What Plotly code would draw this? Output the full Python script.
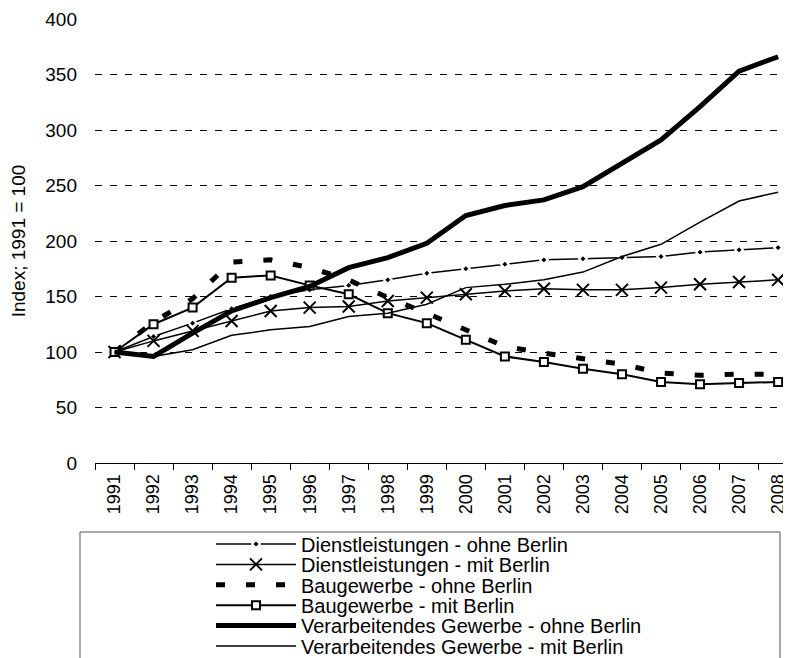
import plotly.graph_objects as go

# data (Index; 1991 = 100)
years = [str(y) for y in range(1991, 2009)]

dienst_ohne = [100, 114, 126, 139, 150, 156, 160, 165, 171, 175, 179, 183, 184, 185, 186, 190, 192, 194]
dienst_mit = [100, 110, 119, 128, 137, 140, 141, 146, 149, 152, 155, 157, 156, 156, 158, 161, 163, 165]
bau_ohne = [100, 127, 148, 181, 183, 176, 165, 149, 135, 120, 105, 99, 94, 89, 81, 79, 80, 80]
bau_mit = [100, 125, 140, 167, 169, 160, 152, 135, 126, 111, 96, 91, 85, 80, 73, 71, 72, 73]
verarb_ohne = [100, 96, 117, 137, 149, 159, 176, 185, 198, 223, 232, 237, 249, 270, 291, 321, 353, 366]
verarb_mit = [100, 96, 102, 115, 120, 123, 132, 135, 143, 158, 161, 165, 172, 186, 197, 217, 236, 244]

names = [
    "Dienstleistungen - ohne Berlin",
    "Dienstleistungen - mit Berlin",
    "Baugewerbe - ohne Berlin",
    "Baugewerbe - mit Berlin",
    "Verarbeitendes Gewerbe - ohne Berlin",
    "Verarbeitendes Gewerbe - mit Berlin",
]

FONT = "Liberation Sans, Arial, sans-serif"
OFF = 8                      # page body margin of the html page
W, H = 791 - OFF, 700        # figure runs past the window bottom (legend is cut there)
ML, MT = 87, 11
plot_w = W - ML
plot_h = 444
MB = H - MT - plot_h
AXIS_Y = OFF + MT + plot_h   # page pixel of the x axis


def px_x(p):
    return (p - OFF - ML) / plot_w


def px_y(p):
    return (AXIS_Y - p) / plot_h


legend_ids = ["legend", "legend2", "legend3", "legend4", "legend5", "legend6"]

fig = go.Figure()

fig.add_trace(go.Scatter(
    x=years, y=dienst_ohne, name=names[0], mode="lines+markers", legend=legend_ids[0],
    line=dict(color="black", width=1.5),
    marker=dict(symbol="diamond", size=6, color="black", line=dict(color="white", width=2)),
))
fig.add_trace(go.Scatter(
    x=years, y=dienst_mit, name=names[1], mode="lines+markers", legend=legend_ids[1],
    line=dict(color="black", width=1.5),
    marker=dict(symbol="x-thin", size=12, color="black", line=dict(color="black", width=2)),
))
fig.add_trace(go.Scatter(
    x=years, y=bau_ohne, name=names[2], mode="lines", legend=legend_ids[2],
    line=dict(color="black", width=5, dash="9px,21px"),
))
fig.add_trace(go.Scatter(
    x=years, y=bau_mit, name=names[3], mode="lines+markers", legend=legend_ids[3],
    line=dict(color="black", width=2),
    marker=dict(symbol="square", size=8, color="white", line=dict(color="black", width=2)),
))
fig.add_trace(go.Scatter(
    x=years, y=verarb_ohne, name=names[4], mode="lines", legend=legend_ids[4],
    line=dict(color="black", width=5),
))
fig.add_trace(go.Scatter(
    x=years, y=verarb_mit, name=names[5], mode="lines", legend=legend_ids[5],
    line=dict(color="black", width=1.5),
))

# legend frame
fig.add_shape(type="rect", xref="paper", yref="paper",
              x0=px_x(80), x1=px_x(780), y0=px_y(532), y1=px_y(720),
              line=dict(color="#555555", width=1), fillcolor="rgba(0,0,0,0)")

legend_layout = {}
for i, lid in enumerate(legend_ids):
    legend_layout[lid] = dict(
        x=px_x(211), y=px_y(544 + 20.4 * i), xanchor="left", yanchor="middle",
        bgcolor="rgba(0,0,0,0)", borderwidth=0,
        font=dict(family=FONT, size=20, color="black"),
        itemwidth=80,
    )

fig.update_layout(
    width=W, height=H,
    margin=dict(l=ML, r=0, t=MT, b=MB),
    paper_bgcolor="white", plot_bgcolor="white",
    font=dict(family=FONT, size=18, color="black"),
    showlegend=True,
    **legend_layout,
)

fig.update_xaxes(
    type="category", range=[-0.5, 17.33],
    showline=True, linecolor="black", linewidth=1,
    ticks="outside", tickson="boundaries", ticklen=6, tickcolor="black",
    tickangle=-90, ticklabelstandoff=3,
    showgrid=False, zeroline=False,
    tickfont=dict(family=FONT, size=18),
)
fig.update_yaxes(
    range=[0, 400], dtick=50,
    showline=False, zeroline=False,
    showgrid=True, gridcolor="black", gridwidth=1, griddash="7px,8px",
    ticks="", ticklabelstandoff=17,
    tickfont=dict(family=FONT, size=19),
    title=dict(text="Index; 1991 = 100", font=dict(family=FONT, size=19), standoff=16),
)

fig.write_html("out.html")
